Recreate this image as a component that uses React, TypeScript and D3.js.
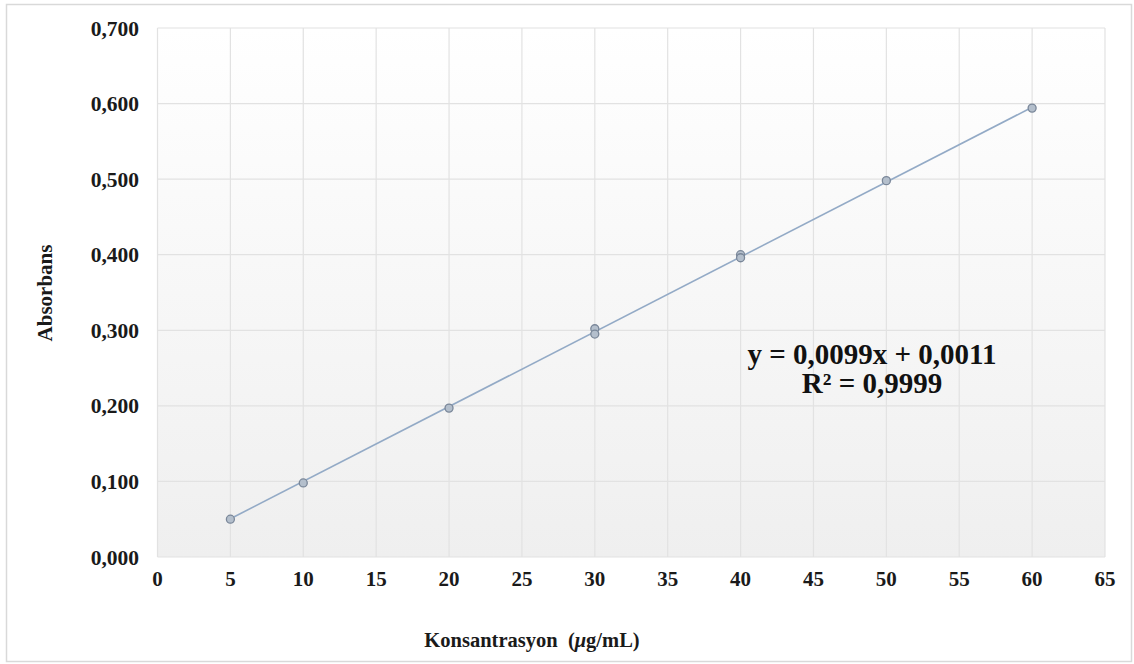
import React from "react";
import * as d3 from "d3";

const concentrations = [5, 10, 20, 30, 30, 40, 40, 50, 60];
const absorbances = [0.05, 0.098, 0.197, 0.302, 0.295, 0.4, 0.396, 0.498, 0.594];
const xTicks = [0, 5, 10, 15, 20, 25, 30, 35, 40, 45, 50, 55, 60, 65];
const yTicks = [0, 0.1, 0.2, 0.3, 0.4, 0.5, 0.6, 0.7];
const slope = 0.0099;
const intercept = 0.0011;
const trendRange = [5, 60];
const equationText = "y = 0,0099x + 0,0011";
const r2Value = "0,9999";

const W = 1134;
const H = 664;
const left = 157.5;
const right = 1105;
const top = 28;
const bottom = 557;
const FONT = "'Liberation Serif', 'Times New Roman', serif";

export default function App() {
  const x = d3.scaleLinear().domain([0, 65]).range([left, right]);
  const y = d3.scaleLinear().domain([0, 0.7]).range([bottom, top]);
  const fmt = (v: number) => v.toFixed(3).replace(".", ",");
  const line = d3
    .line<number>()
    .x((d) => x(d))
    .y((d) => y(slope * d + intercept));

  return (
    <svg
      width={W}
      height={H}
      style={{ position: "absolute", left: 0, top: 0, display: "block" }}
      fontFamily={FONT}
    >
      <defs>
        <linearGradient id="bg" x1="0" y1="0" x2="0" y2="1">
          <stop offset="0" stopColor="#ffffff" />
          <stop offset="1" stopColor="#efefef" />
        </linearGradient>
      </defs>
      <rect x={0} y={0} width={W} height={H} fill="#ffffff" />
      <rect x={6.5} y={4.5} width={1125} height={657} fill="#ffffff" stroke="#d9d9d9" strokeWidth={1.5} />
      <rect x={left} y={top} width={right - left} height={bottom - top} fill="url(#bg)" />
      {xTicks.map((t) => (
        <line key={"gx" + t} x1={x(t)} x2={x(t)} y1={top} y2={bottom} stroke="#e2e2e2" strokeWidth={1.2} />
      ))}
      {yTicks.map((t) => (
        <line key={"gy" + t} x1={left} x2={right} y1={y(t)} y2={y(t)} stroke="#e2e2e2" strokeWidth={1.2} />
      ))}
      {yTicks.map((t) => (
        <text
          key={"ty" + t}
          x={139}
          y={y(t)}
          dy="0.35em"
          textAnchor="end"
          fontSize={21.5}
          fontWeight="bold"
          fill="#1a1a1a"
        >
          {fmt(t)}
        </text>
      ))}
      {xTicks.map((t) => (
        <text
          key={"tx" + t}
          x={x(t)}
          y={586}
          textAnchor="middle"
          fontSize={21}
          fontWeight="bold"
          fill="#1a1a1a"
        >
          {t}
        </text>
      ))}
      <path d={line(trendRange) || ""} fill="none" stroke="#93aac6" strokeWidth={1.6} />
      {concentrations.map((c, i) => (
        <circle
          key={"p" + i}
          cx={x(c)}
          cy={y(absorbances[i])}
          r={4}
          fill="#b4bfcc"
          stroke="#7a8799"
          strokeWidth={1.3}
        />
      ))}
      <text
        x={872}
        y={364}
        textAnchor="middle"
        fontSize={29}
        fontWeight="bold"
        fill="#111"
      >
        {equationText}
      </text>
      <text x={872} y={393} textAnchor="middle" fontSize={29} fontWeight="bold" fill="#111">
        R² = {r2Value}
      </text>
      <text
        transform={`translate(52,293) rotate(-90)`}
        textAnchor="middle"
        fontSize={21}
        fontWeight="bold"
        fill="#1a1a1a"
      >
        Absorbans
      </text>
      <text x={532} y={647} textAnchor="middle" fontSize={20.5} fontWeight="bold" fill="#1a1a1a">
        Konsantrasyon{"\u00A0\u00A0"}(<tspan fontStyle="italic">μ</tspan>g/mL)
      </text>
    </svg>
  );
}
